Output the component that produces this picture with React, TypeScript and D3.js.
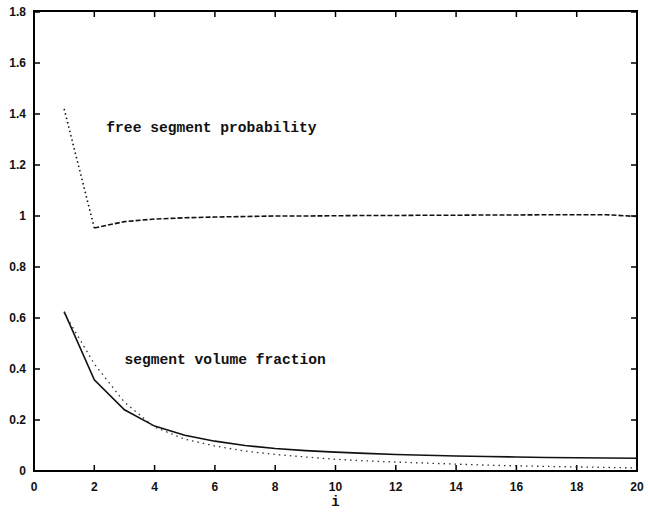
import React from "react";
import * as d3 from "d3";

const layers = [1, 2, 3, 4, 5, 6, 7, 8, 9, 10, 11, 12, 13, 14, 15, 16, 17, 18, 19, 20];
const freeSegmentProbability = [1.42, 0.953, 0.978, 0.988, 0.993, 0.996, 0.998, 1.0, 1.0, 1.001, 1.002, 1.002, 1.003, 1.003, 1.004, 1.004, 1.005, 1.005, 1.005, 0.998];
const volumeFractionSolid = [0.625, 0.358, 0.24, 0.176, 0.14, 0.117, 0.1, 0.088, 0.08, 0.074, 0.069, 0.065, 0.062, 0.059, 0.057, 0.055, 0.053, 0.052, 0.051, 0.05];
const volumeFractionDotted = [0.62, 0.42, 0.27, 0.172, 0.125, 0.098, 0.078, 0.065, 0.055, 0.046, 0.04, 0.035, 0.031, 0.027, 0.023, 0.02, 0.018, 0.016, 0.014, 0.012];
const xTicks = [0, 2, 4, 6, 8, 10, 12, 14, 16, 18, 20];
const yTicks = [0, 0.2, 0.4, 0.6, 0.8, 1, 1.2, 1.4, 1.6, 1.8];
const yTickLabels = ["0", "0.2", "0.4", "0.6", "0.8", "1", "1.2", "1.4", "1.6", "1.8"];
const xLabel = "i";
const annotations = [
  { text: "free segment probability", x: 2.4, y: 1.33 },
  { text: "segment volume fraction", x: 3.0, y: 0.42 },
];

export default function App() {
  const W = 648, H = 512;
  const left = 34, right = 637, top = 12, bottom = 471;
  const x = d3.scaleLinear().domain([0, 20]).range([left, right]);
  const y = d3.scaleLinear().domain([0, 1.8]).range([bottom, top]);
  const line = (idx: number[], vals: number[]) =>
    d3.line<number>().x((i) => x(layers[i])).y((i) => y(vals[i]))(idx) || "";
  const allIdx = layers.map((_, i) => i);
  const tick = 6;
  const sans = "Liberation Sans, Arial, sans-serif";
  return (
    <svg width={W} height={H} style={{ position: "absolute", left: 0, top: 0, background: "#fff" }}>
      <rect x={0} y={0} width={W} height={H} fill="#fff" />
      <rect x={left} y={top - 1} width={right - left} height={bottom - top + 1} fill="none" stroke="#000" strokeWidth={2} />
      {yTicks.map((t, i) => (
        <g key={"y" + i}>
          <line x1={left} x2={left + tick} y1={y(t)} y2={y(t)} stroke="#000" strokeWidth={1.5} />
          <line x1={right} x2={right - tick} y1={y(t)} y2={y(t)} stroke="#000" strokeWidth={1.5} />
          <text x={26} y={y(t)} dy="0.35em" textAnchor="end" fontFamily={sans} fontWeight="bold" fontSize={12} fill="#111">
            {yTickLabels[i]}
          </text>
        </g>
      ))}
      {xTicks.map((t, i) => (
        <g key={"x" + i}>
          <line x1={x(t)} x2={x(t)} y1={bottom} y2={bottom - tick} stroke="#000" strokeWidth={1.5} />
          <line x1={x(t)} x2={x(t)} y1={top - 1} y2={top - 1 + tick} stroke="#000" strokeWidth={1.5} />
          <text x={x(t)} y={bottom + 20} textAnchor="middle" fontFamily={sans} fontWeight="bold" fontSize={12} fill="#111">
            {String(t)}
          </text>
        </g>
      ))}
      <text x={x(10)} y={bottom + 35} textAnchor="middle" fontFamily="Liberation Mono, monospace" fontWeight="bold" fontSize={14} fill="#111">
        {xLabel}
      </text>
      <path d={line([0, 1], freeSegmentProbability)} fill="none" stroke="#111" strokeWidth={1.6} strokeDasharray="1.5,3" />
      <path d={line(allIdx.slice(1), freeSegmentProbability)} fill="none" stroke="#111" strokeWidth={1.6} strokeDasharray="5,2" />
      <path d={line(allIdx, volumeFractionSolid)} fill="none" stroke="#111" strokeWidth={1.6} />
      <path d={line(allIdx, volumeFractionDotted)} fill="none" stroke="#333" strokeWidth={1.3} strokeDasharray="1.5,4" />
      {annotations.map((a, i) => (
        <text key={"a" + i} x={x(a.x)} y={y(a.y)} fontFamily="Liberation Mono, monospace" fontWeight="bold" fontSize={14.6} fill="#111">
          {a.text}
        </text>
      ))}
    </svg>
  );
}
